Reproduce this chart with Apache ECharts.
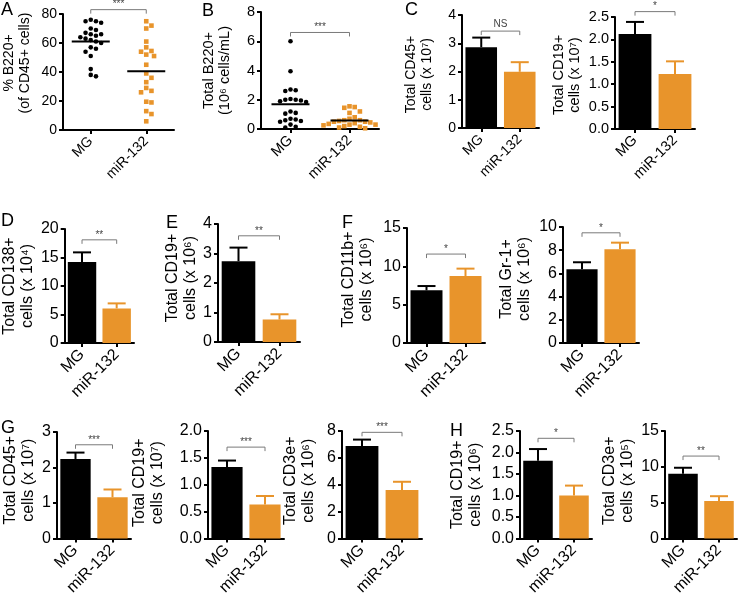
<!DOCTYPE html>
<html><head><meta charset="utf-8">
<script src="https://cdn.jsdelivr.net/npm/echarts@6/dist/echarts.min.js"></script>
<style>html,body{margin:0;padding:0;background:#fff}#c{width:738px;height:598px}</style>
</head><body><div id="c"></div>
<script>
// ---------------- DATA ----------------
const categories = ['MG', 'miR-132'];

// Panel A: % B220+ (of CD45+ cells), individual mice
const aMG  = [76, 75, 75, 74, 70, 69, 67, 66, 66, 65, 64, 63, 62, 61, 60, 57, 56, 54, 51, 42, 38, 37];
const aMiR = [75, 72, 70, 61, 57, 54.5, 54, 52, 51, 45, 39, 36, 33, 29, 27, 26, 19.5, 19, 13, 11, 6];
const aMeans = [61, 40.5];

// Panel B: Total B220+ (10^6 cells/mL), individual mice
const bMG  = [6.0, 3.95, 2.7, 2.65, 2.6, 2.05, 2.0, 2.0, 1.95, 1.9, 1.85, 1.2, 1.1, 1.05, 0.7, 0.65, 0.6, 0.55, 0.5, 0.3, 0.15, 0.1];
const bMiR = [1.55, 1.5, 1.45, 1.2, 1.1, 0.8, 0.7, 0.6, 0.6, 0.55, 0.5, 0.5, 0.45, 0.4, 0.35, 0.3, 0.3, 0.25, 0.2, 0.15, 0.1, 0.05];
const bMeans = [1.7, 0.58];

// Bar panels: means and SEM (upper error)
const c1Mean = [2.86, 1.99],  c1Sem = [0.34, 0.34];
const c2Mean = [2.12, 1.23],  c2Sem = [0.27, 0.28];
const dMean  = [14.2, 6.07],  dSem  = [1.7, 0.88];
const eMean  = [2.74, 0.76],  eSem  = [0.46, 0.18];
const f1Mean = [6.87, 8.74],  f1Sem = [0.56, 0.96];
const f2Mean = [6.35, 8.08],  f2Sem = [0.61, 0.57];
const g1Mean = [2.24, 1.16],  g1Sem = [0.18, 0.22];
const g2Mean = [1.33, 0.63],  g2Sem = [0.12, 0.16];
const g3Mean = [6.88, 3.6],   g3Sem = [0.48, 0.62];
const h1Mean = [1.81, 1.0],   h1Sem = [0.27, 0.23];
const h2Mean = [9.05, 5.23],  h2Sem = [0.82, 0.67];

// Significance labels and bracket levels (axis units)
const sigLabels = {A:'***', B:'***', C1:'NS', C2:'*', D:'**', E:'**', F1:'*', F2:'*', G1:'***', G2:'***', G3:'***', H1:'*', H2:'**'};
const sigLevels = {A:83, B:6.6, C1:3.43, C2:2.62, D:18.1, E:3.6, F1:11.6, F2:9.5, G1:2.64, G2:1.7, G3:7.9, H1:2.33, H2:11.5};

// Axis ranges: [max, interval, decimals]
const yScales = {A:[80,20,0], B:[8,2,0], C1:[4,1,0], C2:[2.5,0.5,1], D:[20,5,0], E:[4,1,0], F1:[15,5,0], F2:[10,2,0], G1:[3,1,0], G2:[2,0.5,1], G3:[8,2,0], H1:[2.5,0.5,1], H2:[15,5,0]};

// Axis titles
const yTitles = {
  A: ['% B220+', '(of CD45+ cells)'],
  B: ['Total B220+', '(10\u2076 cells/mL)'],
  C1: ['Total CD45+', 'cells (x 10\u2077)'],
  C2: ['Total CD19+', 'cells (x 10\u2077)'],
  D: ['Total CD138+', 'cells (x 10\u2074)'],
  E: ['Total CD19+', 'cells (x 10\u2076)'],
  F1: ['Total CD11b+', 'cells (x 10\u2076)'],
  F2: ['Total Gr-1+', 'cells (x 10\u2076)'],
  G1: ['Total CD45+', 'cells (x 10\u2077)'],
  G2: ['Total CD19+', 'cells (x 10\u2077)'],
  G3: ['Total CD3e+', 'cells (x 10\u2076)'],
  H1: ['Total CD19+', 'cells (x 10\u2076)'],
  H2: ['Total CD3e+', 'cells (x 10\u2075)']
};

// ---------------- LAYOUT / STYLE ----------------
const FONT = "'Liberation Sans', Arial, Helvetica, sans-serif";
const ORANGE = '#E8942B';
const groupColors = ['#000000', ORANGE];

// left, top, width, height, nameGap, name shift up, font size
const layout = {
  A:  [58, 14, 116, 116, 30, 9, 14],
  B:  [261, 12, 118, 117, 28, 0, 14.5],
  C1: [462, 15, 77, 113, 27, -3, 14],
  C2: [615, 17, 80, 112, 32, -2, 14.5],
  D:  [58, 229, 76, 114, 26, 0, 16],
  E:  [218, 224, 82, 118, 18, 5, 16],
  F1: [407, 228, 78, 115, 31, 6, 16],
  F2: [563, 227, 76, 116, 29, 6, 16],
  G1: [57, 432, 74, 109, 19, 5, 16],
  G2: [208, 431, 76, 110, 41, 2, 16],
  G3: [342, 431, 80, 112, 24, 4, 16],
  H1: [520, 431, 72, 110, 35, 0, 16],
  H2: [665, 431, 72, 110, 28, 4, 16]
};

const barPanels = {
  C1:[c1Mean,c1Sem], C2:[c2Mean,c2Sem], D:[dMean,dSem], E:[eMean,eSem],
  F1:[f1Mean,f1Sem], F2:[f2Mean,f2Sem], G1:[g1Mean,g1Sem], G2:[g2Mean,g2Sem],
  G3:[g3Mean,g3Sem], H1:[h1Mean,h1Sem], H2:[h2Mean,h2Sem]
};
const scatterPanels = { A:[[aMG, aMiR], aMeans], B:[[bMG, bMiR], bMeans] };

const panelKeys = ['A','B','C1','C2','D','E','F1','F2','G1','G2','G3','H1','H2'];

const grids = [], xAxes = [], yAxes = [], series = [];

// simple beeswarm: horizontal pixel offsets so dots don't overlap
function swarm(vals, pxPerUnit, d) {
  const idx = vals.map((v, i) => i).sort((a, b) => vals[b] - vals[a]);
  const placed = [], off = new Array(vals.length);
  idx.forEach(i => {
    const y = vals[i] * pxPerUnit;
    let chosen = 0;
    for (let s = 0; s < 60; s++) {
      const cand = s === 0 ? 0 : (s % 2 ? 1 : -1) * Math.ceil(s / 2) * d / 2;
      if (placed.every(p => Math.hypot(p.x - cand, p.y - y) >= d)) { chosen = cand; break; }
    }
    off[i] = chosen;
    placed.push({x: chosen, y});
  });
  return off;
}

panelKeys.forEach((key, gi) => {
  const [left, top, width, height, nameGap, shift, fs] = layout[key];
  const [ymax, interval, dec] = yScales[key];
  grids.push({left, top, width, height});
  xAxes.push({
    type: 'category', gridIndex: gi, data: categories, boundaryGap: true,
    axisLine: {show: true, onZero: false, lineStyle: {color: '#000', width: 2}},
    axisTick: {show: true, alignWithLabel: true, length: 4, lineStyle: {color: '#000', width: 2}},
    axisLabel: {rotate: 45, interval: 0, margin: 9, fontSize: fs, color: '#000', fontFamily: FONT, hideOverlap: false},
    splitLine: {show: false}
  });
  const pad = shift >= 0 ? [0, 0, 0, 2 * shift] : [0, -2 * shift, 0, 0];
  yAxes.push({
    type: 'value', gridIndex: gi, min: 0, max: ymax, interval,
    name: yTitles[key].join('\n'), nameLocation: 'middle', nameGap, nameRotate: 90,
    nameTextStyle: {fontSize: fs, color: '#000', fontFamily: FONT, lineHeight: Math.round(fs * 1.12), padding: pad},
    axisLine: {show: true, lineStyle: {color: '#000', width: 2}},
    axisTick: {show: true, length: 4, lineStyle: {color: '#000', width: 2}},
    axisLabel: {fontSize: fs, color: '#000', fontFamily: FONT, margin: 6, formatter: v => v.toFixed(dec)},
    splitLine: {show: false}
  });

  if (barPanels[key]) {
    const [means, sems] = barPanels[key];
    series.push({
      type: 'bar', xAxisIndex: gi, yAxisIndex: gi, barWidth: '82%', silent: true,
      data: means.map((v, j) => ({value: v, itemStyle: {color: groupColors[j]}}))
    });
    series.push({
      type: 'custom', xAxisIndex: gi, yAxisIndex: gi, silent: true, z: 3,
      data: means.map((v, j) => [j, v, v + sems[j]]),
      encode: {x: 0, y: [1, 2]},
      renderItem: (params, api) => {
        const j = api.value(0);
        const p0 = api.coord([j, api.value(1)]);
        const p1 = api.coord([j, api.value(2)]);
        const col = groupColors[j];
        return {type: 'group', children: [
          {type: 'line', shape: {x1: p0[0], y1: p0[1], x2: p1[0], y2: p1[1]}, style: {stroke: col, lineWidth: 2}},
          {type: 'line', shape: {x1: p1[0] - 9, y1: p1[1], x2: p1[0] + 9, y2: p1[1]}, style: {stroke: col, lineWidth: 2}}
        ]};
      }
    });
  } else {
    const [groups, means] = scatterPanels[key];
    const pxPerUnit = height / ymax;
    groups.forEach((vals, j) => {
      const offs = swarm(vals, pxPerUnit, 5.2);
      series.push({
        type: 'custom', xAxisIndex: gi, yAxisIndex: gi, silent: true, z: 2,
        data: vals.map((v, i) => [j, v, offs[i]]),
        encode: {x: 0, y: 1},
        renderItem: (params, api) => {
          const p = api.coord([api.value(0), api.value(1)]);
          const x = p[0] + api.value(2);
          if (j === 0) {
            return {type: 'circle', shape: {cx: x, cy: p[1], r: 2.3}, style: {fill: '#000'}};
          }
          return {type: 'rect', shape: {x: x - 2.3, y: p[1] - 2.3, width: 4.6, height: 4.6}, style: {fill: ORANGE}};
        }
      });
    });
    series.push({
      type: 'custom', xAxisIndex: gi, yAxisIndex: gi, silent: true, z: 4,
      data: means.map((v, j) => [j, v]),
      encode: {x: 0, y: 1},
      renderItem: (params, api) => {
        const p = api.coord([api.value(0), api.value(1)]);
        return {type: 'line', shape: {x1: p[0] - 19, y1: p[1], x2: p[0] + 19, y2: p[1]}, style: {stroke: '#000', lineWidth: 2}};
      }
    });
  }

  // significance bracket
  series.push({
    type: 'custom', xAxisIndex: gi, yAxisIndex: gi, silent: true, z: 5, clip: false,
    data: [[0, sigLevels[key]]],
    encode: {x: 0, y: 1},
    renderItem: (params, api) => {
      const L = api.value(1);
      const p0 = api.coord([0, L]);
      const p1 = api.coord([1, L]);
      return {type: 'group', children: [
        {type: 'polyline', shape: {points: [[p0[0], p0[1] + 4], [p0[0], p0[1]], [p1[0], p1[1]], [p1[0], p1[1] + 4]]},
          style: {stroke: '#7a7a7a', lineWidth: 1, fill: null}},
        {type: 'text', x: (p0[0] + p1[0]) / 2, y: p0[1] - (sigLabels[key] === 'NS' ? 2 : 0),
          style: {text: sigLabels[key], fill: '#444', font: '10px ' + FONT, align: 'center', verticalAlign: 'bottom'}}
      ]};
    }
  });
});

const letters = [['A',1,1],['B',202,2],['C',405,1],['D',1,212],['E',166,214],['F',342,214],['G',1,419],['H',450,422]];

const chart = echarts.init(document.getElementById('c'), null, {renderer: 'canvas'});
chart.setOption({
  animation: false,
  backgroundColor: '#fff',
  grid: grids, xAxis: xAxes, yAxis: yAxes, series,
  graphic: letters.map(([t, x, y]) => ({type: 'text', left: x, top: y, style: {text: t, font: '18px ' + FONT, fill: '#000'}}))
});
</script></body></html>
